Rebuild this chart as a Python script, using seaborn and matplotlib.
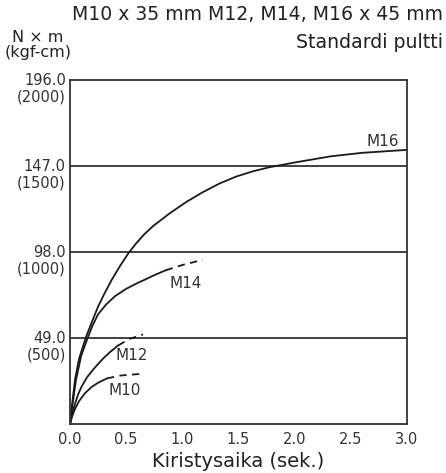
import matplotlib
matplotlib.use("Agg")
import matplotlib.pyplot as plt
import seaborn as sns
from matplotlib.transforms import ScaledTranslation

sns.set_theme(style="white")
plt.rcParams['font.family'] = ['DejaVu Sans']

# ---- data ----
m16_x = [0.0, 0.02, 0.044, 0.08, 0.139, 0.2, 0.251, 0.3, 0.37, 0.45, 0.52, 0.59, 0.66,
         0.74, 0.887, 1.035, 1.18, 1.33, 1.48, 1.63, 1.775, 1.86, 2.0, 2.32, 2.6, 3.0]
m16_y = [0.0, 12.0, 25.0, 37.0, 49.0, 59.0, 67.0, 73.5, 82.0, 90.5, 97.3, 103.0, 108.0,
         112.8, 120.0, 126.5, 132.0, 137.0, 141.0, 144.0, 146.3, 147.3, 149.0, 152.5, 154.5, 156.2]

m14_x = [0.0, 0.02, 0.053, 0.1, 0.157, 0.2, 0.25, 0.32, 0.4, 0.5, 0.6, 0.665, 0.75, 0.853]
m14_y = [0.0, 10.0, 25.0, 39.0, 49.0, 56.0, 62.5, 68.0, 72.8, 77.0, 80.3, 82.2, 84.8, 87.6]
m14_dx = [0.853, 1.0, 1.18]
m14_dy = [87.6, 90.6, 93.5]

m12_x = [0.0, 0.02, 0.044, 0.07, 0.1, 0.15, 0.206, 0.25, 0.3, 0.36, 0.43]
m12_y = [0.0, 6.0, 11.4, 16.5, 20.9, 26.5, 31.0, 34.2, 37.6, 41.2, 44.8]
m12_dx = [0.43, 0.53, 0.65]
m12_dy = [44.8, 48.5, 51.0]

m10_x = [0.0, 0.02, 0.044, 0.08, 0.133, 0.19, 0.25, 0.33]
m10_y = [0.0, 4.5, 8.5, 13.0, 17.5, 21.0, 23.5, 26.0]
m10_dx = [0.33, 0.45, 0.62]
m10_dy = [26.0, 27.6, 28.5]

curve_labels = ["M16", "M14", "M12", "M10"]
label_x = [2.78, 1.03, 0.55, 0.49]
label_y = [161.0, 80.0, 39.0, 19.0]

y_ticks = [49.0, 98.0, 147.0, 196.0]
y_tick_labels = ["49.0\n(500)", "98.0\n(1000)", "147.0\n(1500)", "196.0\n(2000)"]
x_ticks = [0.0, 0.5, 1.0, 1.5, 2.0, 2.5, 3.0]
x_tick_labels = ["0.0", "0.5", "1.0", "1.5", "2.0", "2.5", "3.0"]

title1 = "M10 x 35 mm M12, M14, M16 x 45 mm"
title2 = "Standardi pultti"
ylabel = "N \u00d7 m\n(kgf-cm)"
xlabel = "Kiristysaika (sek.)"

# ---- figure ----
fig = plt.figure(figsize=(4.46, 4.73), dpi=100)
ax = fig.add_axes([70/446, 1-424/473, (407-70)/446, (424-80)/473])

lc = "#1a1a1a"
for xs, ys in [(m16_x, m16_y), (m14_x, m14_y), (m12_x, m12_y), (m10_x, m10_y)]:
    sns.lineplot(x=xs, y=ys, ax=ax, color=lc, linewidth=1.3, sort=False, estimator=None)
for xs, ys in [(m14_dx, m14_dy), (m12_dx, m12_dy), (m10_dx, m10_dy)]:
    sns.lineplot(x=xs, y=ys, ax=ax, color=lc, linewidth=1.3, sort=False, estimator=None,
                 linestyle=(0, (4, 3)))

for yv in y_ticks[:-1]:
    ax.axhline(yv, color="#333333", linewidth=1.3, zorder=1)

for t, xv, yv in zip(curve_labels, label_x, label_y):
    ax.text(xv, yv, t, ha="center", va="center", fontsize=11, color="#333333")

ax.set_xlim(0, 3.0)
ax.set_ylim(0, 196.0)
ax.set_xticks(x_ticks)
ax.set_xticklabels(x_tick_labels, fontsize=10.5, color="#333333")
ax.set_yticks(y_ticks)
ax.set_yticklabels(y_tick_labels, fontsize=10.5, color="#333333", linespacing=1.15)
ax.tick_params(axis="x", direction="in", length=4, width=1, color="#333333", pad=6)
ax.tick_params(axis="y", length=0, pad=3)
for lab in ax.get_yticklabels():
    lab.set_va("top")
    lab.set_transform(lab.get_transform() + ScaledTranslation(0, 0.072, fig.dpi_scale_trans))

for s in ax.spines.values():
    s.set_color("#333333")
    s.set_linewidth(1.3)
    s.set_visible(True)

ax.set_xlabel(xlabel, fontsize=14, color="#222222", labelpad=3)
ax.set_ylabel("")

fig.text(443/446, 1-14/473, title1, ha="right", va="center", fontsize=13.6, color="#222222")
fig.text(443/446, 1-42/473, title2, ha="right", va="center", fontsize=13.6, color="#222222")
fig.text(38/446, 1-45/473, ylabel, ha="center", va="center", fontsize=11.5, color="#222222",
         linespacing=0.95)

fig.savefig("out.png", dpi=100, facecolor="white")
